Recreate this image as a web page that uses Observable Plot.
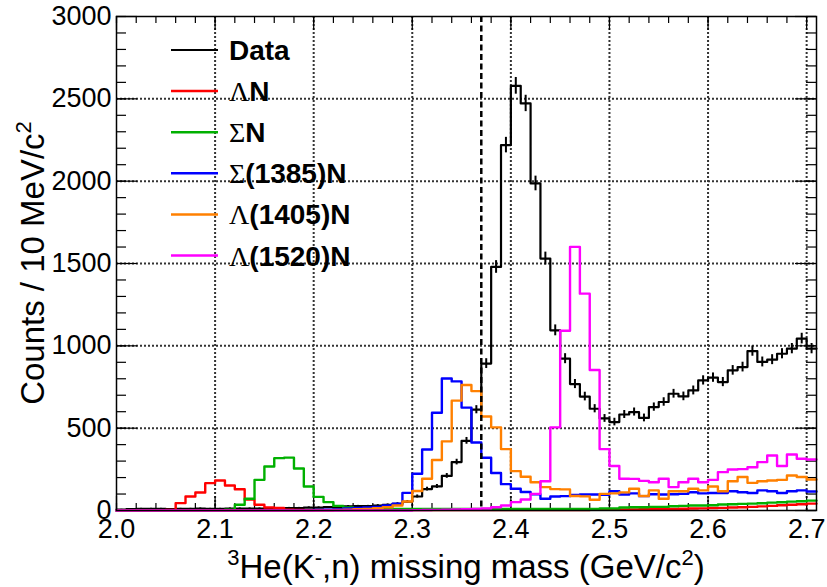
<!DOCTYPE html>
<html><head><meta charset="utf-8">
<script src="https://cdn.jsdelivr.net/npm/d3@7"></script>
<script src="https://cdn.jsdelivr.net/npm/@observablehq/plot@0.6"></script>
<style>body{margin:0;background:#fff}</style>
</head><body><div id="chart"></div>
<script>
// Histogram binning (GeV/c^2): 71 bins of 10 MeV starting at 2.00
const binStart = 2.00;
const binWidth = 0.01;

// Data (black, with statistical error bars)
const dataCounts = [5,8,10,10,10,8,10,10,12,10,10,12,12,12,12,14,14,15,15,18,
  18,20,20,25,26,26,30,34,41,53,85,130,146,210,294,423,612,892,1479,2219,
  2579,2472,1986,1530,1094,922,768,692,618,559,537,583,598,562,628,659,709,693,729,790,
  807,780,851,871,968,902,916,952,983,1044,983];
// Lambda N
const lambdaN = [0,0,0,0,0,3,45,85,109,166,182,152,129,66,35,18,15,5,3,2,
  2,2,2,2,2,2,2,2,2,2,2,2,2,2,2,2,2,2,2,2,
  2,2,2,2,2,3,3,3,4,5,5,6,7,8,8,9,10,11,12,13,
  15,16,18,20,22,25,28,32,35,38,42];
// Sigma N
const sigmaN = [0,0,0,0,0,0,0,0,0,0,0,5,35,71,186,267,318,321,255,146,
  83,51,28,18,12,12,10,10,10,10,10,10,10,10,10,10,10,10,10,10,
  10,10,10,10,10,10,10,10,10,12,12,18,20,20,22,22,26,28,30,30,
  32,36,38,40,42,44,48,50,54,56,60];
// Sigma(1385) N
const sigma1385N = [0,0,0,0,0,0,0,0,0,0,0,0,0,0,0,0,0,0,0,0,
  3,5,8,12,15,18,22,30,41,107,223,370,594,802,784,625,413,320,228,160,
  132,112,99,71,85,87,95,97,97,95,117,97,104,87,99,97,99,101,111,104,
  106,106,117,111,106,122,117,106,117,122,115];
// Lambda(1405) N
const lambda1405N = [0,0,0,0,0,0,0,0,0,0,0,0,0,0,0,0,0,0,0,0,
  0,0,3,5,8,10,14,20,30,55,118,193,307,420,667,762,725,571,505,373,
  239,205,172,142,130,128,88,86,65,101,104,110,132,88,122,71,117,117,132,122,
  146,117,178,203,168,178,182,186,213,203,188];
// Lambda(1520) N
const lambda1520N = [0,0,0,0,0,0,0,0,0,0,0,0,0,0,0,0,0,0,0,0,
  0,0,0,0,0,0,0,0,0,0,2,3,4,5,6,8,10,12,20,30,
  51,67,101,178,505,1092,1601,1317,853,373,270,193,192,180,172,193,142,172,193,172,
  186,233,249,251,263,294,334,270,340,314,310];

const seriesNames = ["Data", "ΛN", "ΣN", "Σ(1385)N", "Λ(1405)N", "Λ(1520)N"];
const seriesColors = ["#000000", "#ff0000", "#00b000", "#0000ff", "#ff8000", "#ff00ff"];
const xTicks = [2.0, 2.1, 2.2, 2.3, 2.4, 2.5, 2.6, 2.7];
const yTicks = [0, 500, 1000, 1500, 2000, 2500, 3000];
const xMinorTicks = d3.range(0, 36).map(i => 2.0 + i * 0.02);
const yMinorTicks = d3.range(0, 31).map(i => i * 100);
const thresholdMass = 2.37;

const W = 827, H = 587;
const mL = 116, mR = 11, mT = 16, mB = 77;
const pw = W - mL - mR, ph = H - mT - mB;
const sans = "'Liberation Sans', Arial, Helvetica, sans-serif";
const serif = "'Liberation Serif', 'DejaVu Serif', serif";

function steps(vals) {
  const pts = vals.map((v, i) => ({x: binStart + i * binWidth, y: v}));
  pts.push({x: binStart + vals.length * binWidth, y: vals[vals.length - 1]});
  return pts;
}
const mcSeries = [lambdaN, sigmaN, sigma1385N, lambda1405N, lambda1520N];
const errBars = dataCounts.map((v, i) => ({x: binStart + (i + 0.5) * binWidth, y1: v - Math.sqrt(v), y2: v + Math.sqrt(v)}));

const marks = [
  // dotted grid
  Plot.ruleX(xTicks.slice(1), {stroke: "#333", strokeWidth: 2, strokeDasharray: "2,2", ariaLabel: "gridline"}),
  Plot.ruleY(yTicks.slice(1, -1), {stroke: "#333", strokeWidth: 2, strokeDasharray: "2,2", ariaLabel: "gridline"}),
  // inward ticks
  Plot.ruleX(xMinorTicks, {insetTop: ph - 7, stroke: "#000", strokeWidth: 1.2}),
  Plot.ruleX(xMinorTicks, {insetBottom: ph - 7, stroke: "#000", strokeWidth: 1.2}),
  Plot.ruleX(xTicks, {insetTop: ph - 14, stroke: "#000", strokeWidth: 1.2}),
  Plot.ruleX(xTicks, {insetBottom: ph - 14, stroke: "#000", strokeWidth: 1.2}),
  Plot.ruleY(yMinorTicks, {insetRight: pw - 10, stroke: "#000", strokeWidth: 1.2}),
  Plot.ruleY(yMinorTicks, {insetLeft: pw - 10, stroke: "#000", strokeWidth: 1.2}),
  Plot.ruleY(yTicks, {insetRight: pw - 21, stroke: "#000", strokeWidth: 1.2}),
  Plot.ruleY(yTicks, {insetLeft: pw - 21, stroke: "#000", strokeWidth: 1.2}),
  // data histogram + error bars
  Plot.line(steps(dataCounts), {x: "x", y: "y", curve: "step-after", stroke: seriesColors[0], strokeWidth: 2.2}),
  Plot.ruleX(errBars, {x: "x", y1: "y1", y2: "y2", stroke: "#000", strokeWidth: 2}),
  // simulated components
  ...mcSeries.map((vals, k) => Plot.line(steps(vals), {x: "x", y: "y", curve: "step-after", stroke: seriesColors[k + 1], strokeWidth: 2.4})),
  // threshold line
  Plot.ruleX([thresholdMass], {stroke: "#000", strokeWidth: 2.5, strokeDasharray: "6,3.5"}),
  Plot.frame({stroke: "#000", strokeWidth: 1.5}),
  Plot.axisX(xTicks, {tickSize: 0, tickPadding: 8, tickFormat: d3.format(".1f"), label: null, fontSize: 27}),
  Plot.axisY(yTicks, {tickSize: 0, tickPadding: 5, tickFormat: d => String(d), label: null, fontSize: 27})
];

const chart = Plot.plot({
  width: W, height: H,
  marginLeft: mL, marginRight: mR, marginTop: mT, marginBottom: mB,
  x: {domain: [2.0, 2.71]},
  y: {domain: [0, 3000]},
  style: {fontFamily: sans, fontSize: "27px", color: "#000", background: "#fff", overflow: "visible"},
  marks
});
document.getElementById("chart").appendChild(chart);

const svg = d3.select(chart);
// snap the dotted grid lines (positioned by Plot's scales) to whole pixels so the dots stay crisp
svg.selectAll('g[aria-label="gridline"]').attr("transform", null);
svg.selectAll('g[aria-label="gridline"] line').each(function () {
  const el = d3.select(this);
  ["x1", "x2", "y1", "y2"].forEach(a => {
    const v = +el.attr(a);
    if (!isNaN(v)) el.attr(a, Math.round(v));
  });
});

// axis titles and legend
const xt = svg.append("text")
  .attr("x", mL + pw / 2).attr("y", 578)
  .attr("text-anchor", "middle")
  .style("font-family", sans).style("font-size", "33px").attr("fill", "#000");
xt.append("tspan").text("3").attr("font-size", "22px").attr("dy", "-13");
xt.append("tspan").text("He(K").attr("dy", "13");
xt.append("tspan").text("-").attr("font-size", "22px").attr("dy", "-13");
xt.append("tspan").text(",n) missing mass (GeV/c").attr("dy", "13");
xt.append("tspan").text("2").attr("font-size", "22px").attr("dy", "-13");
xt.append("tspan").text(")").attr("dy", "13");

const yt = svg.append("text")
  .attr("transform", `translate(44,${mT + ph / 2}) rotate(-90)`)
  .attr("text-anchor", "middle")
  .style("font-family", sans).style("font-size", "33px").attr("fill", "#000");
yt.append("tspan").text("Counts / 10 MeV/c");
yt.append("tspan").text("2").attr("font-size", "22px").attr("dy", "-13");

const lg = svg.append("g");
seriesNames.forEach((name, i) => {
  const yy = 50 + 41.1 * i;
  lg.append("line").attr("x1", 171).attr("x2", 218).attr("y1", yy).attr("y2", yy)
    .attr("stroke", seriesColors[i]).attr("stroke-width", i === 0 ? 2 : 2.5);
  const t = lg.append("text").attr("x", 229).attr("y", yy + 10)
    .attr("text-anchor", "start")
    .style("font-family", sans).style("font-size", "28px").style("font-weight", "bold").attr("fill", "#000");
  const greek = /^[ΛΣ]/.test(name);
  if (greek) {
    t.append("tspan").text(name[0]).style("font-family", serif).style("font-weight", "normal");
    t.append("tspan").text(name.slice(1));
  } else {
    t.append("tspan").text(name);
  }
});
</script>
</body></html>
